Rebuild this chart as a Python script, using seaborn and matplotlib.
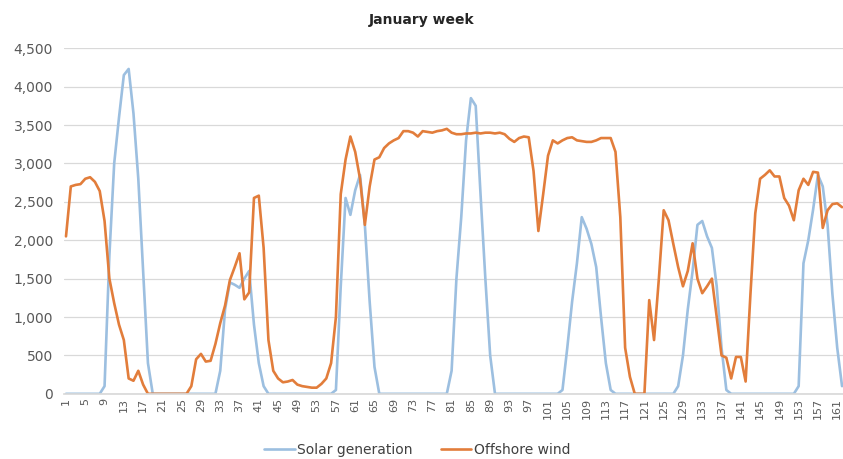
import pandas as pd
import matplotlib
matplotlib.use("Agg")
import matplotlib.pyplot as plt
import seaborn as sns
from matplotlib.ticker import FuncFormatter, MultipleLocator

# Hourly values, hour 1..162
hours = list(range(1, 163))

solar = [
    0, 0, 0, 0, 0, 0, 0, 0, 100, 1800,
    3000, 3600, 4150, 4230, 3650, 2800, 1600, 400, 0, 0,
    0, 0, 0, 0, 0, 0, 0, 0, 0, 0,
    0, 0, 300, 1100, 1450, 1420, 1380, 1500, 1600, 900,
    400, 100, 0, 0, 0, 0, 0, 0, 0, 0,
    0, 0, 0, 0, 0, 0, 50, 1400, 2550, 2330,
    2650, 2850, 2200, 1200, 350, 0, 0, 0, 0, 0,
    0, 0, 0, 0, 0, 0, 0, 0, 0, 0,
    300, 1500, 2300, 3300, 3850, 3750, 2600, 1500, 500, 0,
    0, 0, 0, 0, 0, 0, 0, 0, 0, 0,
    0, 0, 0, 50, 600, 1200, 1700, 2300, 2150, 1950,
    1650, 1000, 400, 50, 0, 0, 0, 0, 0, 0,
    0, 0, 0, 0, 0, 0, 0, 100, 500, 1100,
    1600, 2200, 2250, 2050, 1900, 1400, 600, 50, 0, 0,
    0, 0, 0, 0, 0, 0, 0, 0, 0, 0,
    0, 0, 100, 1700, 2000, 2400, 2850, 2700, 2200, 1300,
    600, 100,
]

wind = [
    2050, 2700, 2720, 2730, 2800, 2820, 2760, 2640, 2250, 1500,
    1180, 900, 700, 200, 170, 300, 120, 0, 0, 0,
    0, 0, 0, 0, 0, 0, 100, 450, 520, 420,
    430, 650, 920, 1150, 1480, 1650, 1830, 1230, 1320, 2550,
    2580, 1900, 700, 300, 200, 150, 160, 180, 120, 100,
    90, 80, 80, 130, 200, 400, 1000, 2600, 3050, 3350,
    3150, 2800, 2200, 2700, 3050, 3080, 3200, 3260, 3300, 3330,
    3420, 3420, 3400, 3350, 3420, 3410, 3400, 3420, 3430, 3450,
    3400, 3380, 3380, 3390, 3390, 3400, 3390, 3400, 3400, 3390,
    3400, 3380, 3320, 3280, 3330, 3350, 3340, 2900, 2120, 2600,
    3100, 3300, 3260, 3300, 3330, 3340, 3300, 3290, 3280, 3280,
    3300, 3330, 3330, 3330, 3150, 2300, 600, 220, 0, 0,
    0, 1220, 700, 1500, 2390, 2260, 1950, 1650, 1400, 1600,
    1960, 1500, 1310, 1400, 1500, 1000, 500, 470, 200, 480,
    480, 160, 1300, 2350, 2800, 2850, 2910, 2830, 2830, 2550,
    2450, 2260, 2650, 2800, 2720, 2890, 2880, 2160, 2390, 2470,
    2480, 2430,
]

series_names = ["Solar generation", "Offshore wind"]
colors = {"Solar generation": "#9CBFE0", "Offshore wind": "#E27D3B"}
x_ticks = list(range(1, 163, 4))


def main():
    df = pd.DataFrame({"Hour": hours, series_names[0]: solar, series_names[1]: wind})
    df_long = df.melt(id_vars="Hour", var_name="Series", value_name="MW")

    sns.set_theme(style="white")
    plt.rcParams["font.family"] = ["DejaVu Sans"]

    fig = plt.figure(figsize=(8.43, 4.59), dpi=100)
    ax = fig.add_axes([0.076, 0.142, 0.924, 0.753])

    sns.lineplot(data=df_long, x="Hour", y="MW", hue="Series",
                 hue_order=series_names, palette=colors,
                 linewidth=1.9, ax=ax, legend=False)

    ax.set_xlim(0.6, 162.2)
    ax.set_ylim(0, 4500)
    ax.yaxis.set_major_locator(MultipleLocator(500))
    ax.yaxis.set_major_formatter(FuncFormatter(lambda v, p: f"{int(v):,}"))
    ax.grid(axis="y", color="#D9D9D9", linewidth=0.9)
    ax.set_axisbelow(True)
    for s in ["top", "right", "left"]:
        ax.spines[s].set_visible(False)
    ax.spines["bottom"].set_color("#D9D9D9")

    ax.set_xticks(x_ticks)
    ax.set_xticklabels([str(t) for t in x_ticks], rotation=90, fontsize=8, color="#595959")
    ax.tick_params(axis="y", labelsize=10, colors="#595959", length=0, pad=8)
    ax.tick_params(axis="x", length=0, pad=3)
    ax.set_xlabel("")
    ax.set_ylabel("")

    fig.suptitle("January week", y=0.972, fontsize=10, fontweight="bold", color="#262626")

    handles = [plt.Line2D([], [], color=colors[n], linewidth=1.9) for n in series_names]
    fig.legend(handles, series_names, loc="center", bbox_to_anchor=(0.495, 0.02),
               ncol=2, frameon=False, fontsize=10, handlelength=2.2,
               handletextpad=0.2, columnspacing=2.0, labelcolor="#404040")

    fig.savefig("out.png", dpi=100)
    plt.close(fig)


if __name__ == "__main__":
    main()
